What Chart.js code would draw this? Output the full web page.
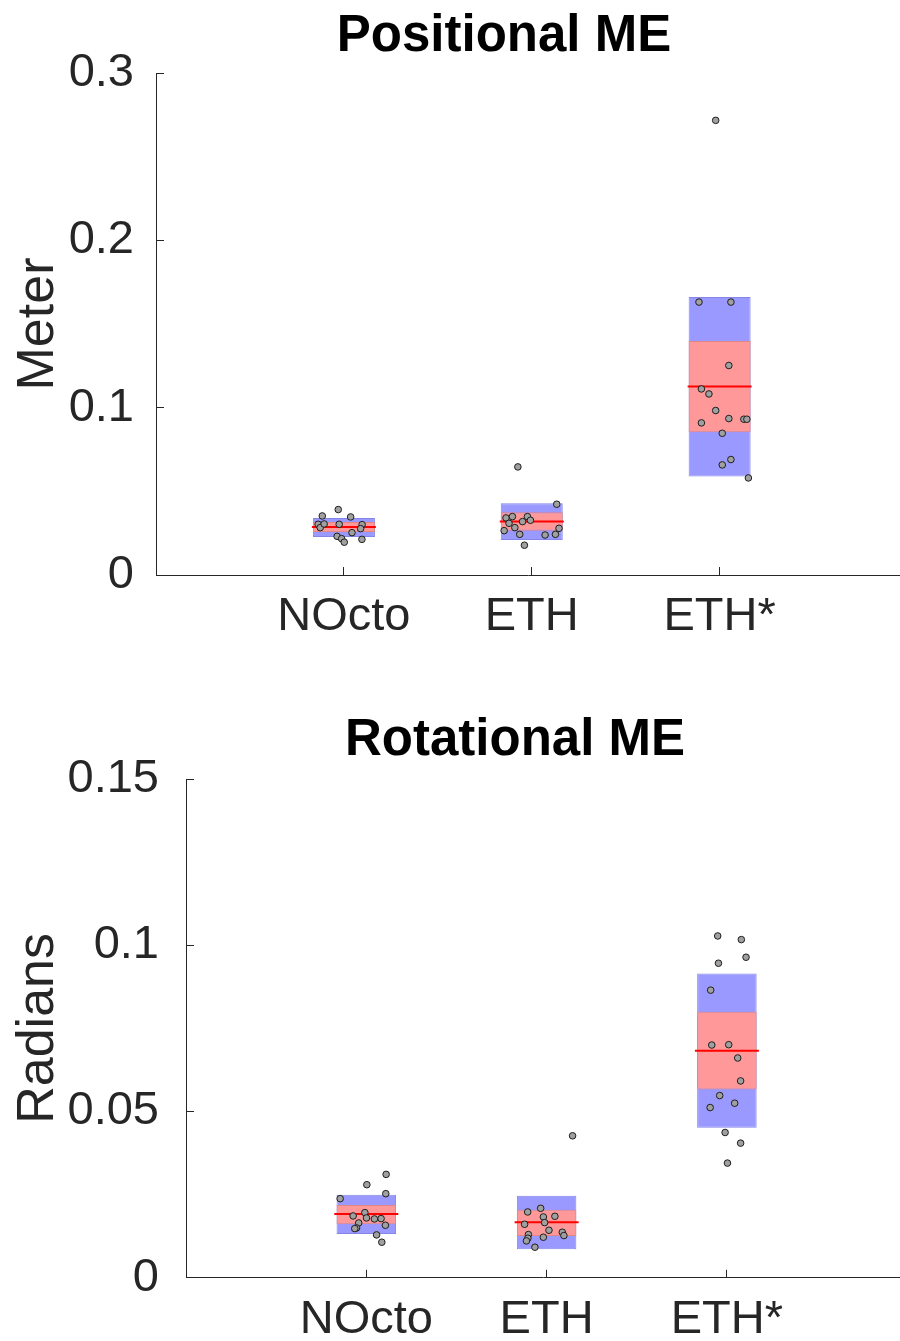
<!DOCTYPE html>
<html>
<head>
<meta charset="utf-8">
<script src="https://cdn.jsdelivr.net/npm/chart.js@4/dist/chart.umd.min.js"></script>
<style>
  html, body { margin: 0; padding: 0; background: #fff; width: 900px; height: 1341px; overflow: hidden; }
  canvas { position: absolute; left: 0; display: block; }
  #pos { top: 0; }
  #rot { top: 670px; }
</style>
</head>
<body>
<canvas id="pos" width="900" height="670"></canvas>
<canvas id="rot" width="900" height="671"></canvas>
<script>
// ---- data ----
const categories = ['NOcto', 'ETH', 'ETH*'];

// Positional error (metres): mean, SEM band, SD band per method
const posMean     = [0.0287, 0.0319, 0.1126];
const posSemLow   = [0.0257, 0.0265, 0.0853];
const posSemHigh  = [0.0317, 0.0375, 0.1398];
const posSdLow    = [0.0227, 0.0209, 0.0588];
const posSdHigh   = [0.0341, 0.0429, 0.1661];
// individual runs and their horizontal jitter (category units)
const posRuns = [
  [0.0353, 0.0391, 0.0347, 0.0303, 0.0283, 0.0305, 0.0303, 0.0301, 0.0277, 0.0253, 0.0231, 0.0217, 0.0196, 0.0213],
  [0.0423, 0.0341, 0.0349, 0.0309, 0.0349, 0.0327, 0.0319, 0.0283, 0.0265, 0.0243, 0.0239, 0.0243, 0.0279, 0.0178, 0.0646],
  [0.2717, 0.1631, 0.1631, 0.1252, 0.1112, 0.1082, 0.0983, 0.0935, 0.0931, 0.0931, 0.0909, 0.0847, 0.0690, 0.0658, 0.0580]
];
const posJitter = [
  [-0.115, -0.030, 0.036, -0.137, -0.126, -0.105, -0.025, 0.097, 0.089, 0.043, -0.036, -0.012, 0.002, 0.096],
  [0.133, -0.137, -0.103, -0.121, -0.023, -0.007, -0.049, -0.090, -0.147, -0.064, 0.071, 0.126, 0.145, -0.039, -0.074],
  [-0.021, -0.110, 0.060, 0.049, -0.097, -0.057, -0.021, 0.049, 0.129, 0.145, -0.097, 0.014, 0.060, 0.014, 0.153]
];
const posTicks = [0, 0.1, 0.2, 0.3];
const posTickLabels = ['0', '0.1', '0.2', '0.3'];

// Rotational error (radians)
const rotMean     = [0.0192, 0.0167, 0.0683];
const rotSemLow   = [0.0161, 0.0126, 0.0566];
const rotSemHigh  = [0.0219, 0.0205, 0.0800];
const rotSdLow    = [0.0132, 0.0086, 0.0451];
const rotSdHigh   = [0.0250, 0.0247, 0.0915];
const rotRuns = [
  [0.0311, 0.0280, 0.0253, 0.0238, 0.0196, 0.0186, 0.0180, 0.0177, 0.0178, 0.0165, 0.0158, 0.0150, 0.0148, 0.0129, 0.0107],
  [0.0209, 0.0198, 0.0185, 0.0183, 0.0166, 0.0161, 0.0143, 0.0137, 0.0127, 0.0130, 0.0122, 0.0119, 0.0111, 0.0092, 0.0427],
  [0.1028, 0.1017, 0.0964, 0.0946, 0.0865, 0.0700, 0.0701, 0.0661, 0.0592, 0.0548, 0.0525, 0.0512, 0.0437, 0.0405, 0.0345]
];
const rotJitter = [
  [0.110, 0.003, 0.108, -0.145, -0.008, -0.073, 0.001, 0.045, 0.082, -0.042, 0.106, -0.054, -0.064, 0.057, 0.086],
  [-0.033, -0.105, 0.046, -0.018, -0.011, -0.122, 0.013, 0.087, 0.096, -0.101, -0.018, -0.104, -0.112, -0.065, 0.144],
  [-0.051, 0.080, 0.106, -0.047, -0.090, -0.084, 0.010, 0.060, 0.076, -0.040, 0.043, -0.093, -0.010, 0.076, 0.003]
];
const rotTicks = [0, 0.05, 0.1, 0.15];
const rotTickLabels = ['0', '0.05', '0.1', '0.15'];

// ---- drawing ----
const FONT = '"Liberation Sans", Arial, Helvetica, sans-serif';
const INK = '#262626';

// bold heading drawn at a chosen x (the axes run off the right edge)
const headline = {
  id: 'headline',
  afterDraw(chart, args, opts) {
    const ctx = chart.ctx;
    ctx.save();
    ctx.font = 'bold 51px ' + FONT;
    ctx.fillStyle = '#000';
    ctx.textAlign = 'center';
    ctx.textBaseline = 'alphabetic';
    ctx.fillText(opts.text, opts.x, opts.y);
    ctx.restore();
  }
};

function buildChart(id, spec) {
  const cats = categories.map((c, i) => i + 1);
  const band = (lo, hi) => cats.map((x, i) => ({ x, y: [lo[i], hi[i]] }));
  const points = [];
  spec.runs.forEach((list, i) => list.forEach((v, j) => points.push({ x: cats[i] + spec.jitter[i][j], y: v })));

  return new Chart(document.getElementById(id), {
    type: 'bar',
    data: {
      datasets: [
        { type: 'scatter', data: points, order: 0,
          pointRadius: 3.3, pointBorderWidth: 1,
          backgroundColor: '#a0a0a0', borderColor: '#1e1e1e' },
        { type: 'scatter', data: cats.map((x, i) => ({ x, y: spec.mean[i] })), order: 1,
          pointStyle: 'line', pointRadius: 32, pointBorderWidth: 2, borderColor: '#ff0000' },
        { type: 'bar', data: band(spec.semLow, spec.semHigh), order: 2, grouped: false,
          barPercentage: 0.33, categoryPercentage: 1,
          backgroundColor: '#ff9999', borderColor: '#e38686', borderWidth: 1, borderSkipped: false },
        { type: 'bar', data: band(spec.sdLow, spec.sdHigh), order: 3, grouped: false,
          barPercentage: 0.33, categoryPercentage: 1,
          backgroundColor: '#9999ff', borderColor: '#8585e8', borderWidth: 1, borderSkipped: false }
      ]
    },
    options: {
      responsive: false,
      animation: false,
      events: [],
      layout: { autoPadding: false, padding: { top: spec.top, right: 0, bottom: 0, left: 0 } },
      plugins: {
        legend: { display: false },
        tooltip: { enabled: false },
        headline: { text: spec.title, x: spec.titleX, y: spec.titleY }
      },
      scales: {
        x: {
          type: 'linear', min: 0, max: 3.96, offset: false,
          afterBuildTicks: s => { s.ticks = cats.map(v => ({ value: v })); },
          afterFit: s => { s.height = spec.xAxisHeight; s.paddingLeft = 0; s.paddingRight = 0; },
          ticks: { callback: v => categories[Math.round(v) - 1], autoSkip: false, maxRotation: 0,
                   padding: 22, color: INK, font: { family: FONT, size: 47 } },
          grid: { offset: false, drawOnChartArea: false, tickLength: -8, color: INK, lineWidth: 1 },
          border: { color: INK, width: 1 }
        },
        y: {
          type: 'linear', min: spec.ticks[0], max: spec.ticks[spec.ticks.length - 1],
          afterBuildTicks: s => { s.ticks = spec.ticks.map(v => ({ value: v })); },
          afterFit: s => { s.width = spec.yAxisWidth; },
          ticks: { callback: (v, i) => spec.tickLabels[i], padding: spec.yPad, color: INK,
                   font: { family: FONT, size: 47 } },
          grid: { drawOnChartArea: false, tickLength: -8, color: INK, lineWidth: 1 },
          border: { color: INK, width: 1 },
          title: { display: true, text: spec.yTitle, color: INK,
                   font: { family: FONT, size: 52 }, padding: { top: 7, bottom: 0 } }
        }
      }
    },
    plugins: [headline]
  });
}

buildChart('pos', {
  title: 'Positional ME', titleX: 504, titleY: 51, yTitle: 'Meter',
  top: 73, xAxisHeight: 95, yAxisWidth: 156, yPad: 30,
  mean: posMean, semLow: posSemLow, semHigh: posSemHigh, sdLow: posSdLow, sdHigh: posSdHigh,
  runs: posRuns, jitter: posJitter, ticks: posTicks, tickLabels: posTickLabels
});

buildChart('rot', {
  title: 'Rotational ME', titleX: 515, titleY: 85, yTitle: 'Radians',
  top: 109, xAxisHeight: 63, yAxisWidth: 186, yPad: 35,
  mean: rotMean, semLow: rotSemLow, semHigh: rotSemHigh, sdLow: rotSdLow, sdHigh: rotSdHigh,
  runs: rotRuns, jitter: rotJitter, ticks: rotTicks, tickLabels: rotTickLabels
});
</script>
</body>
</html>
